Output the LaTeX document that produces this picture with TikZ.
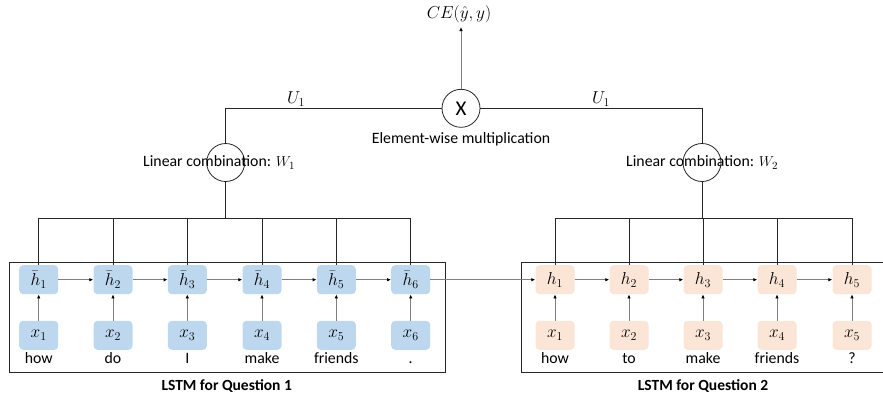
\documentclass[tikz,border=0pt]{standalone}
\usepackage{fontspec}
\setmainfont{Carlito}
\usetikzlibrary{arrows.meta}
\definecolor{qblue}{HTML}{BDD7EE}
\definecolor{qpeach}{HTML}{FBE5D6}
\definecolor{lgray}{HTML}{7F7F7F}
\tikzset{
  cellA/.style={fill=qblue, rounded corners=4pt, minimum width=39pt, minimum height=29pt, inner sep=0pt, font=\fontsize{17}{20}\selectfont},
  cellB/.style={fill=qpeach, rounded corners=4pt, minimum width=39pt, minimum height=29pt, inner sep=0pt, font=\fontsize{17}{20}\selectfont},
  word/.style={font=\fontsize{15.8}{19}\selectfont, inner sep=0pt},
  lbl/.style={font=\fontsize{15.8}{19}\selectfont, inner sep=0pt},
  mlbl/.style={font=\fontsize{17}{20}\selectfont, inner sep=0pt},
  ttl/.style={font=\fontsize{15.5}{19}\selectfont\bfseries, inner sep=0pt},
  flow/.style={draw=lgray, line width=0.8pt, -{Latex[length=4pt,width=3.5pt,color=black]}},
  wire/.style={draw=black!85, line width=0.8pt},
  frame/.style={draw=black!85, line width=1pt},
  op/.style={circle, draw=black!85, line width=0.8pt, minimum size=38pt, inner sep=0pt}
}
\begin{document}
\begin{tikzpicture}[x=1pt,y=-1pt]
\useasboundingbox (0,0) rectangle (883,400);
% frames
\draw[frame] (9.5,262.5) rectangle (445,372.5);
\draw[frame] (521,262.5) rectangle (890,372.5);
% left LSTM
\foreach \i/\x/\w in {1/38.7/how,2/113/do,3/187.3/I,4/262/make,5/336.3/friends,6/410.7/.}{
  \node[cellA] (ah\i) at (\x,279.7) {$\bar{h}_{\i}$};
  \node[cellA] (ax\i) at (\x,335.3) {$x_{\i}$};
  \node[word] (aw\i) at (\x,359.5) {\strut\w};
  \draw[flow] (ax\i) -- (ah\i);
}
\foreach \i/\j in {1/2,2/3,3/4,4/5,5/6}{\draw[flow] (ah\i) -- (ah\j);}
% right LSTM
\foreach \i/\x/\w in {1/555/how,2/629/to,3/703/make,4/777/friends,5/852/?}{
  \node[cellB] (bh\i) at (\x,279.7) {$h_{\i}$};
  \node[cellB] (bx\i) at (\x,335.3) {$x_{\i}$};
  \node[word] (bw\i) at (\x,359.5) {\strut\w};
  \draw[flow] (bx\i) -- (bh\i);
}
\foreach \i/\j in {1/2,2/3,3/4,4/5}{\draw[flow] (bh\i) -- (bh\j);}
\draw[flow] (ah6) -- (bh1);
% titles
\node[ttl] (t1) at (226.7,386.5) {LSTM for Question 1};
\node[ttl] (t2) at (703,386.5) {LSTM for Question 2};
% brackets
\coordinate (ba) at (225.7,218.3);
\coordinate (bb) at (702,218.3);
\draw[wire] (ah1.north) |- (ba) -| (ah6.north);
\foreach \i in {2,3,4,5}{\draw[wire] (ah\i.north) -- (ah\i.north |- ba);}
\draw[wire] (bh1.north) |- (bb) -| (bh5.north);
\foreach \i in {2,3,4}{\draw[wire] (bh\i.north) -- (bh\i.north |- bb);}
% operators
\node[op] (w1) at (225.7,162.5) {};
\node[op] (w2) at (702,162.5) {};
\node[op, font=\fontsize{21}{24}\selectfont] (mx) at (461,108.3) {X};
\draw[wire] (ba) -- (w1);
\draw[wire] (bb) -- (w2);
\draw[wire] (w1) |- (mx);
\draw[wire] (w2) |- (mx);
\node[lbl, anchor=west] (lw1) at (143,162.5) {Linear combination: $W_1$};
\node[lbl, anchor=west] (lw2) at (626,162.5) {Linear combination: $W_2$};
\node[mlbl] (u1) at (296,99) {$U_1$};
\node[mlbl] (u2) at (601,99) {$U_1$};
\node[lbl] (em) at (461,139) {Element-wise multiplication};
\node[mlbl] (ce) at (459,14) {$CE(\hat{y},y)$};
\coordinate (ct) at (461,27);
\draw[flow] (mx) -- (ct);
\end{tikzpicture}
\end{document}
